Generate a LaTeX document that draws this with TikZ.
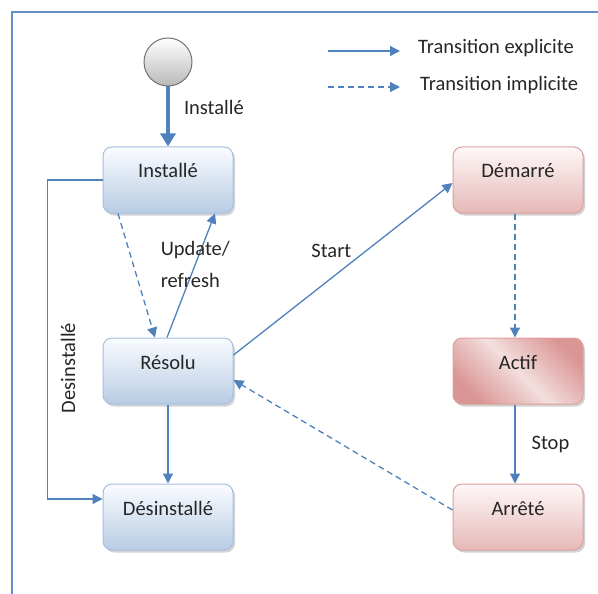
\documentclass[tikz,border=0pt]{standalone}
\usepackage{fontspec}
\setmainfont{Carlito}
\usetikzlibrary{arrows.meta, positioning, shadows, calc}
\definecolor{arrowblue}{RGB}{79,129,189}
\definecolor{frameblue}{RGB}{100,142,198}
\definecolor{bluetop}{RGB}{250,252,255}
\definecolor{bluebot}{RGB}{184,204,228}
\definecolor{blueedge}{RGB}{165,191,224}
\definecolor{redtop}{RGB}{254,248,248}
\definecolor{redbot}{RGB}{229,184,183}
\definecolor{rededge}{RGB}{220,160,158}
\definecolor{actdark}{RGB}{218,150,148}
\definecolor{actlight}{RGB}{243,222,222}
\tikzset{
  state/.style={rectangle, rounded corners=9pt, minimum width=130pt, inner sep=0pt, text height=31pt, text depth=35pt, line width=1pt, drop shadow={shadow xshift=2pt, shadow yshift=-2.5pt, opacity=0.35}},
  bluestate/.style={state, draw=blueedge, top color=bluetop, bottom color=bluebot},
  redstate/.style={state, draw=rededge, top color=redtop, bottom color=redbot},
  explicit/.style={draw=arrowblue, line width=1.3pt, -{Triangle[length=10pt,width=10pt]}},
  implicit/.style={explicit, dash pattern=on 6pt off 4pt},
  lbl/.style={inner sep=2pt, text=black!85}
}
\begin{document}
\begin{tikzpicture}[x=1pt, y=-1pt, font=\fontsize{20.5}{32}\selectfont]
    \useasboundingbox (0,0) rectangle (598,594);
    \draw[frameblue, line width=1.5pt] (12,594) -- (12,12) -- (598,12);%frame
    % =============== states ====================
    \node (init) [circle, minimum size=48pt, draw=gray!90!black, top color=white, bottom color=gray!55, line width=1pt] at (168,62) {};%initial state
    \node (inst) [bluestate, text=black!85] at (168,180) {Installé};%draws Installé
    \node (res) [bluestate, text=black!85] at (168,371) {Résolu};%draws Résolu
    \node (des) [bluestate, text=black!85] at (168,517) {Désinstallé};%draws Désinstallé
    \node (dem) [redstate, text=black!85] at (518,180) {Démarré};%draws Démarré
    \node (act) [state, draw=rededge, left color=actdark, right color=actdark, middle color=actlight, shading angle=-45, text=black!85] at (518,371) {Actif};%draws Actif
    \node (arr) [redstate, text=black!85] at (518,517) {Arrêté};%draws Arrêté
    % =============== legend ====================
    \node (lgexp) [lbl, anchor=west] at (416,48) {Transition explicite};%legend text
    \node (lgimp) [lbl, anchor=west] at (418,85) {Transition implicite};%legend text
    \coordinate (lgexpstart) at (328,51);
    \coordinate (lgimpstart) at (328,87);
    \draw[explicit] (lgexpstart) -- (lgexpstart -| 400,0);%solid sample
    \draw[implicit] (lgimpstart) -- (lgimpstart -| 400,0);%dashed sample
    % =============== transitions ====================
    \draw[explicit, line width=4pt, -{Triangle[length=13pt,width=15pt]}] (init) -- node[lbl, pos=0.35, right=12pt]{Installé} (inst);%install
    \draw[implicit] ([xshift=-50pt]inst.south) -- ([xshift=-13pt]res.north);%resolve
    \draw[explicit] ([xshift=-1pt]res.north) -- node[lbl, pos=0.59, align=left]{Update/\\refresh} ([xshift=47pt]inst.south);%update
    \draw[explicit] ([yshift=16pt]res.east) -- node[lbl, pos=0.55, above left=0pt]{Start} ([yshift=-3pt]dem.west);%start
    \draw[implicit] ([xshift=-3pt]dem.south) -- ([xshift=-3pt]act.north);%running
    \draw[explicit] ([xshift=-3pt]act.south) -- node[lbl, midway, right=14pt]{Stop} ([xshift=-3pt]arr.north);%stop
    \draw[implicit] ([yshift=7pt]arr.west) -- ([yshift=-9pt]res.east);%back to resolved
    \draw[explicit] (res.south) -- (des.north);%uninstall
    \draw[explicit] (inst.west) -- ++(-55,0) |- ([yshift=18pt]des.west);%uninstall from installed
    \node (lbdes) [lbl, rotate=90] at (68,368) {Desinstallé};%side label
\end{tikzpicture}
\end{document}
